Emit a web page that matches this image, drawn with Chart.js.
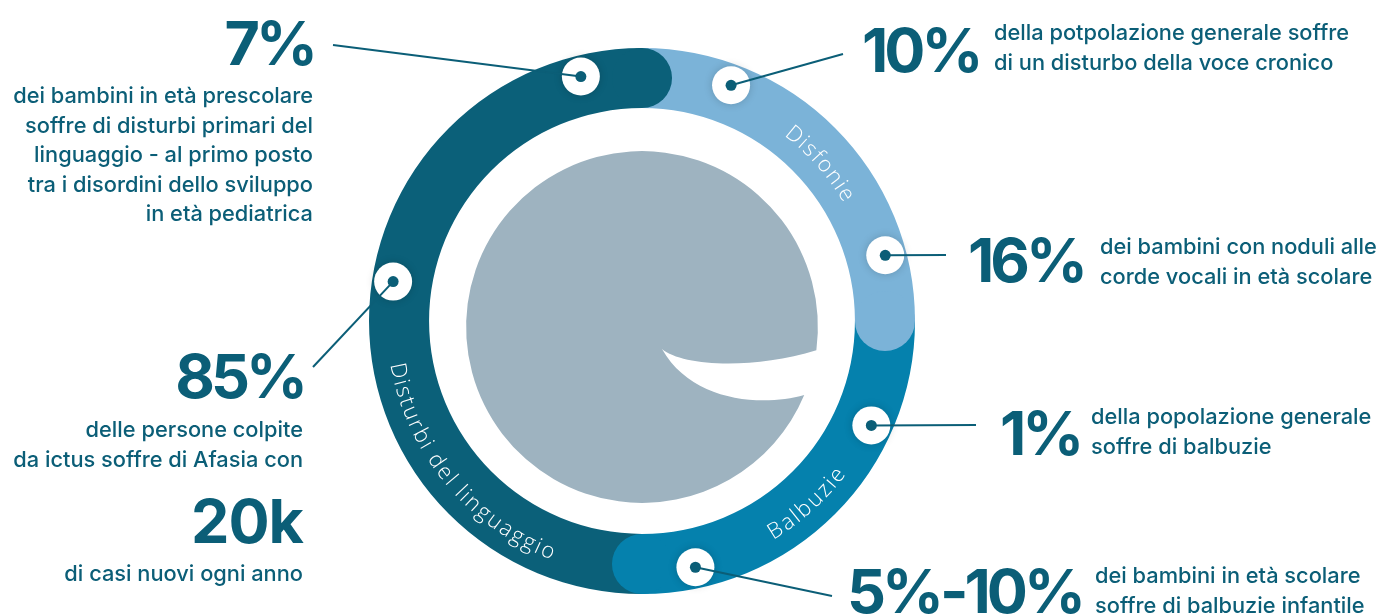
<!DOCTYPE html>
<html>
<head>
<meta charset="utf-8">
<script src="https://cdn.jsdelivr.net/npm/chart.js@4.4.1/dist/chart.umd.min.js"></script>
<style>
  html, body { margin: 0; padding: 0; background: #fff; }
  #wrap { width: 1380px; height: 614px; position: relative; }
</style>
</head>
<body>
<div id="wrap"><canvas id="ring" width="1380" height="614"></canvas></div>
<script>
// ring segments
const categories = ['Disfonie', 'Balbuzie', 'Disturbi del linguaggio'];
const shares = [25, 25, 50];
const ringColors = ['#7bb3d8', '#0581ad', '#0b6079'];

// callouts: headline figure, description, where the marker sits on the ring (same units as shares)
const figures = ['10%', '16%', '1%', '5%-10%', '85%', '7%'];
const notes = [
    ['della potpolazione generale soffre', 'di un disturbo della voce cronico'],
    ['dei bambini con noduli alle', 'corde vocali in età scolare'],
    ['della popolazione generale', 'soffre di balbuzie'],
    ['dei bambini in età scolare', 'soffre di balbuzie infantile'],
    ['delle persone colpite', 'da ictus soffre di Afasia con'],
    ['dei bambini in età prescolare', 'soffre di disturbi primari del', 'linguaggio - al primo posto', 'tra i disordini dello sviluppo', 'in età pediatrica']
];
const markerAt = [5.75, 20.8, 31.8, 46.6, 77.5, 96.1];
const extraFigure = '20k';
const extraNote = 'di casi nuovi ogni anno';

const INK = '#0b5e77';
const BIG = '700 61px Inter';
const BIG_SPACING = '-4px';
const SMALL = '500 21.8px Inter';

// layout of each callout (text anchor + where the leader line ends)
const callouts = [
    { lineEnd: [843, 54], fig: [862, 72, 'left'], text: [994, 40, 'left'] },
    { lineEnd: [946, 255], fig: [968, 282, 'left'], text: [1100, 254, 'left'] },
    { lineEnd: [976, 425], fig: [1000, 455, 'left'], text: [1091, 424, 'left'] },
    { lineEnd: [832, 596], fig: [847, 613, 'left'], text: [1095, 583, 'left'] },
    { lineEnd: [313, 367], fig: [304, 398, 'right'], text: [303, 437, 'right'] },
    { lineEnd: [333, 45], fig: [314, 65, 'right'], text: [313, 103, 'right'] }
];
const labelSpots = [
    { angle: 48.5, r: 0.45, dir: 'cw' },
    { angle: 138, r: 0.6, dir: 'ccw' },
    { angle: 230.5, r: 0.6, dir: 'ccw' }
];

function arcText(ctx, text, cx, cy, r, angDeg, dir) {
    const gap = 1.8;
    const a0 = (angDeg - 90) * Math.PI / 180;
    const total = ctx.measureText(text).width + gap * (text.length - 1);
    let acc = 0;
    for (const ch of text) {
        const w = ctx.measureText(ch).width;
        let a;
        if (dir === 'cw') a = a0 - total / 2 / r + (acc + w / 2) / r;
        else a = a0 + total / 2 / r - (acc + w / 2) / r;
        ctx.save();
        ctx.translate(cx + r * Math.cos(a), cy + r * Math.sin(a));
        ctx.rotate(dir === 'cw' ? a + Math.PI / 2 : a - Math.PI / 2);
        ctx.fillText(ch, 0, 0);
        ctx.restore();
        acc += w + gap;
    }
}

const ringDecor = {
    id: 'ringDecor',
    beforeDatasetsDraw(chart) {
        const arc = chart.getDatasetMeta(0).data[0];
        const ctx = chart.ctx;
        const r = arc.innerRadius * 0.826;
        const s = r / 176;
        const cx = arc.x, cy = arc.y + 6 * s;
        // grey "e" in the middle
        const aA = Math.atan2(23, 173), aB = Math.atan2(67, 160);
        const ax = cx + r * Math.cos(aA), ay = cy + r * Math.sin(aA);
        ctx.save();
        ctx.fillStyle = '#9eb3c0';
        ctx.beginPath();
        ctx.moveTo(ax, ay);
        ctx.arc(cx, cy, r, aA, aB, true);
        ctx.bezierCurveTo(cx + 120 * s, cy + 80 * s, cx + 50 * s, cy + 75 * s, cx + 20 * s, cy + 22 * s);
        ctx.bezierCurveTo(cx + 40 * s, cy + 39 * s, cx + 110 * s, cy + 43 * s, ax, ay);
        ctx.closePath();
        ctx.fill();
        ctx.restore();
    },
    afterDatasetsDraw(chart) {
        const meta = chart.getDatasetMeta(0);
        const ctx = chart.ctx;
        const first = meta.data[0];
        const cx = first.x, cy = first.y;
        const inner = first.innerRadius, outer = first.outerRadius;
        const mid = (inner + outer) / 2, half = (outer - inner) / 2;
        const total = shares.reduce((a, b) => a + b, 0);

        // rounded end caps that overlap the next segment
        meta.data.forEach((el, i) => {
            ctx.save();
            ctx.fillStyle = ringColors[i];
            ctx.beginPath();
            ctx.arc(cx + mid * Math.cos(el.endAngle), cy + mid * Math.sin(el.endAngle), half, 0, Math.PI * 2);
            ctx.fill();
            ctx.restore();
        });

        // segment names along the ring
        ctx.save();
        ctx.fillStyle = '#ffffff';
        ctx.font = '300 22px "Open Sans"';
        ctx.textAlign = 'center';
        ctx.textBaseline = 'middle';
        labelSpots.forEach((l, i) => {
            arcText(ctx, categories[i], cx, cy, inner + l.r * (outer - inner), l.angle, l.dir);
        });
        ctx.restore();

        // markers, leader lines and callout texts
        const rm = inner + 0.65 * (outer - inner);
        markerAt.forEach((v, i) => {
            const a = -Math.PI / 2 + v / total * Math.PI * 2;
            const mx = cx + rm * Math.cos(a), my = cy + rm * Math.sin(a);
            const c = callouts[i];
            ctx.save();
            ctx.shadowColor = 'rgba(0,0,0,0.18)';
            ctx.shadowBlur = 8;
            ctx.fillStyle = '#ffffff';
            ctx.beginPath();
            ctx.arc(mx, my, 19, 0, Math.PI * 2);
            ctx.fill();
            ctx.restore();

            ctx.save();
            ctx.strokeStyle = INK;
            ctx.lineWidth = 2;
            ctx.beginPath();
            ctx.moveTo(mx, my);
            ctx.lineTo(c.lineEnd[0], c.lineEnd[1]);
            ctx.stroke();
            ctx.fillStyle = INK;
            ctx.beginPath();
            ctx.arc(mx, my, 5.5, 0, Math.PI * 2);
            ctx.fill();

            ctx.textBaseline = 'alphabetic';
            ctx.font = BIG;
            ctx.letterSpacing = BIG_SPACING;
            ctx.textAlign = c.fig[2];
            ctx.fillText(figures[i], c.fig[0], c.fig[1]);
            ctx.font = SMALL;
            ctx.letterSpacing = '0px';
            ctx.textAlign = c.text[2];
            notes[i].forEach((ln, k) => ctx.fillText(ln, c.text[0], c.text[1] + k * 29.5));
            ctx.restore();
        });

        // the extra figure under the aphasia callout
        ctx.save();
        ctx.fillStyle = INK;
        ctx.textAlign = 'right';
        ctx.font = BIG;
        ctx.letterSpacing = '-1px';
        ctx.fillText(extraFigure, 303, 543);
        ctx.font = SMALL;
        ctx.letterSpacing = '0px';
        ctx.fillText(extraNote, 303, 581);
        ctx.restore();
    }
};

new Chart(document.getElementById('ring'), {
    type: 'doughnut',
    data: {
        labels: categories,
        datasets: [{
            data: shares,
            backgroundColor: ringColors,
            borderWidth: 0,
            hoverOffset: 0
        }]
    },
    options: {
        responsive: false,
        animation: false,
        cutout: '78%',
        layout: { padding: { left: 369, right: 465, top: 48, bottom: 20 } },
        plugins: {
            legend: { display: false },
            tooltip: { enabled: false }
        }
    },
    plugins: [ringDecor]
});
</script>
</body>
</html>
